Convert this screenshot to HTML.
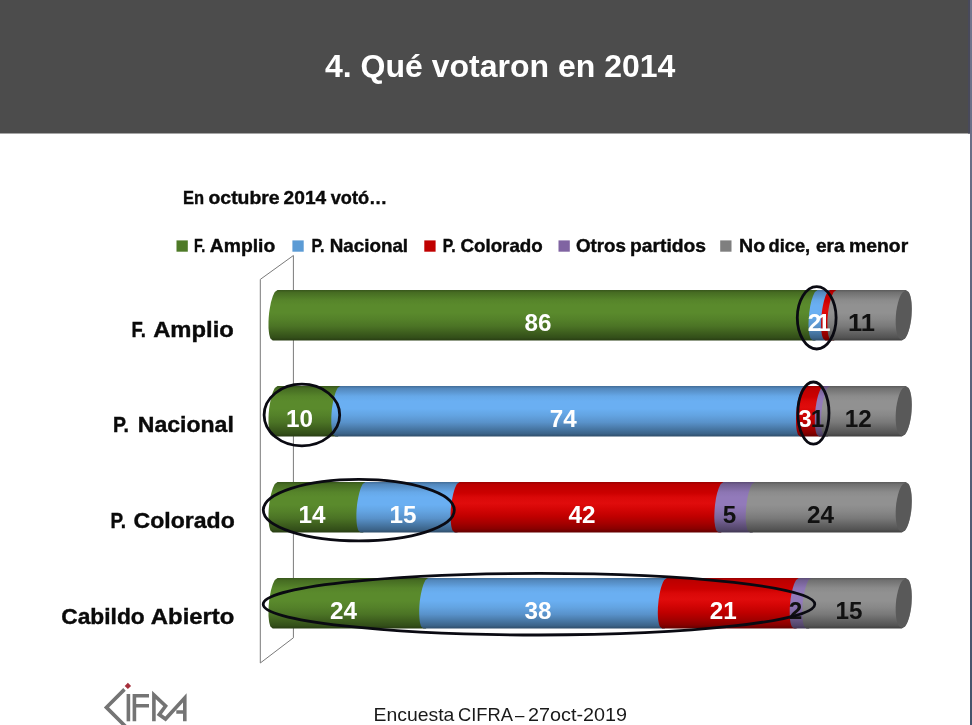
<!DOCTYPE html><html><head><meta charset="utf-8"><title>4. Qué votaron en 2014</title>
<style>html,body{margin:0;padding:0;background:#fff}body{width:972px;height:725px;overflow:hidden}svg{display:block}text{font-family:"Liberation Sans",sans-serif}</style></head><body>
<svg width="972" height="725" viewBox="0 0 972 725">
<defs>
<linearGradient id="gg" x1="0" y1="0" x2="0" y2="1"><stop offset="0" stop-color="#38561c"/><stop offset="0.05" stop-color="#466c22"/><stop offset="0.12" stop-color="#4d7726"/><stop offset="0.2" stop-color="#56842a"/><stop offset="0.3" stop-color="#5a8a2c"/><stop offset="0.45" stop-color="#5a8a2c"/><stop offset="0.58" stop-color="#548129"/><stop offset="0.72" stop-color="#4b7325"/><stop offset="0.84" stop-color="#3e5f1e"/><stop offset="0.94" stop-color="#334f19"/><stop offset="1.0" stop-color="#283d13"/></linearGradient>
<linearGradient id="gb" x1="0" y1="0" x2="0" y2="1"><stop offset="0" stop-color="#426d97"/><stop offset="0.05" stop-color="#5388bd"/><stop offset="0.12" stop-color="#5b96d0"/><stop offset="0.2" stop-color="#66a8e8"/><stop offset="0.3" stop-color="#6aaff2"/><stop offset="0.45" stop-color="#6aaff2"/><stop offset="0.58" stop-color="#63a4e2"/><stop offset="0.72" stop-color="#5992ca"/><stop offset="0.84" stop-color="#4979a7"/><stop offset="0.94" stop-color="#3c648a"/><stop offset="1.0" stop-color="#2f4d6a"/></linearGradient>
<linearGradient id="gr" x1="0" y1="0" x2="0" y2="1"><stop offset="0" stop-color="#9a0000"/><stop offset="0.05" stop-color="#bc0000"/><stop offset="0.22" stop-color="#cc0000"/><stop offset="0.3" stop-color="#da0808"/><stop offset="0.42" stop-color="#e00c0c"/><stop offset="0.52" stop-color="#d60606"/><stop offset="0.68" stop-color="#c00000"/><stop offset="0.82" stop-color="#a40000"/><stop offset="0.93" stop-color="#880000"/><stop offset="1" stop-color="#620000"/></linearGradient>
<linearGradient id="gp" x1="0" y1="0" x2="0" y2="1"><stop offset="0" stop-color="#5b4c74"/><stop offset="0.05" stop-color="#725f91"/><stop offset="0.12" stop-color="#7e69a0"/><stop offset="0.2" stop-color="#8c75b3"/><stop offset="0.3" stop-color="#927aba"/><stop offset="0.45" stop-color="#927aba"/><stop offset="0.58" stop-color="#8972ae"/><stop offset="0.72" stop-color="#7a669b"/><stop offset="0.84" stop-color="#655480"/><stop offset="0.94" stop-color="#53466a"/><stop offset="1.0" stop-color="#403652"/></linearGradient>
<linearGradient id="gy" x1="0" y1="0" x2="0" y2="1"><stop offset="0" stop-color="#5b5b5b"/><stop offset="0.05" stop-color="#717171"/><stop offset="0.12" stop-color="#7d7d7d"/><stop offset="0.2" stop-color="#8b8b8b"/><stop offset="0.3" stop-color="#919191"/><stop offset="0.45" stop-color="#919191"/><stop offset="0.58" stop-color="#888888"/><stop offset="0.72" stop-color="#797979"/><stop offset="0.84" stop-color="#646464"/><stop offset="0.94" stop-color="#535353"/><stop offset="1.0" stop-color="#404040"/></linearGradient>
<linearGradient id="stripe" x1="0" y1="0" x2="0" y2="1"><stop offset="0" stop-color="#74768e"/><stop offset="1" stop-color="#44526a"/></linearGradient>
</defs>
<rect width="972" height="725" fill="#fff"/>
<rect x="0" y="0" width="972" height="133.5" fill="#4c4c4c"/>
<rect x="970" y="0" width="2" height="725" fill="url(#stripe)"/>
<rect x="968" y="0" width="2" height="133.5" fill="#48495a"/>
<text x="500.2" y="77" font-size="32" font-weight="bold" fill="#fff" text-anchor="middle">4. Qué votaron en 2014</text>
<text y="203.9" font-size="18.6" font-weight="bold" fill="#0a0a0a" stroke="#0a0a0a" stroke-width="0.4"><tspan x="182.9" textLength="21.1" lengthAdjust="spacingAndGlyphs">En</tspan> <tspan x="208.5" textLength="71.1" lengthAdjust="spacingAndGlyphs">octubre</tspan> <tspan x="283.6" textLength="42.6" lengthAdjust="spacingAndGlyphs">2014</tspan> <tspan x="330.7" textLength="56.6" lengthAdjust="spacingAndGlyphs">votó…</tspan></text>
<rect x="176.5" y="240.4" width="11.3" height="11.3" fill="#4e7a27"/>
<text y="251.9" font-size="18.2" font-weight="bold" fill="#0a0a0a" stroke="#0a0a0a" stroke-width="0.4"><tspan x="194.1" textLength="11.1" lengthAdjust="spacingAndGlyphs">F.</tspan> <tspan x="209.8" textLength="65.4" lengthAdjust="spacingAndGlyphs">Amplio</tspan></text>
<rect x="292.4" y="240.4" width="11.3" height="11.3" fill="#5b9bd5"/>
<text y="251.9" font-size="18.2" font-weight="bold" fill="#0a0a0a" stroke="#0a0a0a" stroke-width="0.4"><tspan x="311.4" textLength="13.0" lengthAdjust="spacingAndGlyphs">P.</tspan> <tspan x="329.7" textLength="78.4" lengthAdjust="spacingAndGlyphs">Nacional</tspan></text>
<rect x="424.3" y="240.4" width="11.3" height="11.3" fill="#c00000"/>
<text y="251.9" font-size="18.2" font-weight="bold" fill="#0a0a0a" stroke="#0a0a0a" stroke-width="0.4"><tspan x="442.7" textLength="12.8" lengthAdjust="spacingAndGlyphs">P.</tspan> <tspan x="460.4" textLength="82.4" lengthAdjust="spacingAndGlyphs">Colorado</tspan></text>
<rect x="558.5" y="240.4" width="11.3" height="11.3" fill="#8064a2"/>
<text y="251.9" font-size="18.2" font-weight="bold" fill="#0a0a0a" stroke="#0a0a0a" stroke-width="0.4"><tspan x="575.9" textLength="50.0" lengthAdjust="spacingAndGlyphs">Otros</tspan> <tspan x="630" textLength="76.0" lengthAdjust="spacingAndGlyphs">partidos</tspan></text>
<rect x="720.2" y="240.4" width="11.3" height="11.3" fill="#7f7f7f"/>
<text y="251.9" font-size="18.2" font-weight="bold" fill="#0a0a0a" stroke="#0a0a0a" stroke-width="0.4"><tspan x="739.1" textLength="26.1" lengthAdjust="spacingAndGlyphs">No</tspan> <tspan x="768.6" textLength="41.6" lengthAdjust="spacingAndGlyphs">dice,</tspan> <tspan x="816" textLength="28.6" lengthAdjust="spacingAndGlyphs">era</tspan> <tspan x="849.1" textLength="59.1" lengthAdjust="spacingAndGlyphs">menor</tspan></text>
<path d="M260.3 663 L260.3 279.4 L293.4 255.5 L293.4 637.8 Z" fill="#fff" stroke="#7a7a7a" stroke-width="1"/>
<path d="M277.5 290.0 L274.8 292.1 273.7 294.2 272.8 296.3 272.1 298.4 271.5 300.5 270.9 302.6 270.5 304.7 270.1 306.8 269.7 308.9 269.4 311.0 269.1 313.1 268.9 315.2 268.7 317.4 268.6 319.5 268.5 321.6 268.5 323.7 268.5 325.8 268.5 327.9 268.7 330.0 268.9 332.1 269.2 334.2 269.7 336.3 270.4 338.4 272.7 340.5 L815.8 340.5 813.5 338.4 812.8 336.3 812.3 334.2 812.0 332.1 811.7 330.0 811.6 327.9 811.5 325.8 811.5 323.7 811.6 321.6 811.7 319.5 811.8 317.4 812.0 315.2 812.2 313.1 812.5 311.0 812.8 308.9 813.1 306.8 813.5 304.7 814.0 302.6 814.5 300.5 815.2 298.4 815.9 296.3 816.8 294.2 817.9 292.1 820.6 290.0 Z" fill="url(#gg)"/>
<path d="M817.6 290.0 L814.9 292.1 813.8 294.2 812.9 296.3 812.2 298.4 811.5 300.5 811.0 302.6 810.5 304.7 810.1 306.8 809.8 308.9 809.5 311.0 809.2 313.1 809.0 315.2 808.8 317.4 808.7 319.5 808.6 321.6 808.5 323.7 808.5 325.8 808.6 327.9 808.7 330.0 809.0 332.1 809.3 334.2 809.8 336.3 810.5 338.4 812.8 340.5 L828.3 340.5 826.1 338.4 825.3 336.3 824.8 334.2 824.5 332.1 824.3 330.0 824.2 327.9 824.1 325.8 824.1 323.7 824.1 321.6 824.2 319.5 824.4 317.4 824.5 315.2 824.8 313.1 825.0 311.0 825.3 308.9 825.7 306.8 826.1 304.7 826.6 302.6 827.1 300.5 827.7 298.4 828.4 296.3 829.3 294.2 830.5 292.1 833.1 290.0 Z" fill="url(#gb)"/>
<path d="M830.1 290.0 L827.5 292.1 826.3 294.2 825.4 296.3 824.7 298.4 824.1 300.5 823.6 302.6 823.1 304.7 822.7 306.8 822.3 308.9 822.0 311.0 821.8 313.1 821.5 315.2 821.4 317.4 821.2 319.5 821.1 321.6 821.1 323.7 821.1 325.8 821.2 327.9 821.3 330.0 821.5 332.1 821.8 334.2 822.3 336.3 823.1 338.4 825.3 340.5 L834.6 340.5 832.3 338.4 831.6 336.3 831.1 334.2 830.8 332.1 830.6 330.0 830.5 327.9 830.4 325.8 830.4 323.7 830.4 321.6 830.5 319.5 830.6 317.4 830.8 315.2 831.0 313.1 831.3 311.0 831.6 308.9 832.0 306.8 832.4 304.7 832.9 302.6 833.4 300.5 834.0 298.4 834.7 296.3 835.6 294.2 836.7 292.1 839.4 290.0 Z" fill="url(#gr)"/>
<path d="M836.4 290.0 L833.7 292.1 832.6 294.2 831.7 296.3 831.0 298.4 830.4 300.5 829.9 302.6 829.4 304.7 829.0 306.8 828.6 308.9 828.3 311.0 828.0 313.1 827.8 315.2 827.6 317.4 827.5 319.5 827.4 321.6 827.4 323.7 827.4 325.8 827.5 327.9 827.6 330.0 827.8 332.1 828.1 334.2 828.6 336.3 829.3 338.4 831.6 340.5 L901.8 340.5 905.1 338.4 906.5 336.3 907.5 334.2 908.4 332.1 909.0 330.0 909.6 327.9 910.1 325.8 910.6 323.7 910.9 321.6 911.3 319.5 911.5 317.4 911.7 315.2 911.8 313.1 911.9 311.0 911.9 308.9 911.9 306.8 911.8 304.7 911.6 302.6 911.4 300.5 911.0 298.4 910.5 296.3 909.8 294.2 908.8 292.1 905.8 290.0 Z" fill="url(#gy)"/>
<path d="M905.8 290.4 L902.5 292.5 901.1 294.5 900.1 296.6 899.2 298.7 898.6 300.8 898.0 302.8 897.5 304.9 897.0 307.0 896.7 309.0 896.3 311.1 896.1 313.2 895.9 315.2 895.8 317.3 895.7 319.4 895.7 321.5 895.7 323.5 895.8 325.6 896.0 327.7 896.2 329.7 896.6 331.8 897.1 333.9 897.8 336.0 898.8 338.0 901.8 340.1 L901.8 340.1 905.0 338.0 906.3 336.0 907.3 333.9 908.1 331.8 908.8 329.7 909.4 327.7 909.9 325.6 910.3 323.5 910.7 321.5 911.0 319.4 911.2 317.3 911.4 315.2 911.5 313.2 911.6 311.1 911.7 309.0 911.6 307.0 911.5 304.9 911.4 302.8 911.1 300.8 910.8 298.7 910.3 296.6 909.7 294.5 908.7 292.5 905.8 290.4 Z" fill="#595959"/>
<text x="538.0" y="331.3" font-size="23.6" font-weight="bold" fill="#fff" text-anchor="middle" textLength="27.0" lengthAdjust="spacingAndGlyphs">86</text>
<text x="814.4" y="331.3" font-size="23.6" font-weight="bold" fill="#fff" text-anchor="middle" textLength="13.5" lengthAdjust="spacingAndGlyphs">2</text>
<text x="823.8" y="331.3" font-size="23.6" font-weight="bold" fill="#fff" text-anchor="middle" textLength="13.5" lengthAdjust="spacingAndGlyphs">1</text>
<text x="861.5" y="331.3" font-size="23.6" font-weight="bold" fill="#111" text-anchor="middle" textLength="27.0" lengthAdjust="spacingAndGlyphs">11</text>
<text y="337.3" font-size="22.2" font-weight="bold" fill="#0a0a0a" stroke="#0a0a0a" stroke-width="0.4"><tspan x="131.6" textLength="14.4" lengthAdjust="spacingAndGlyphs">F.</tspan> <tspan x="153.2" textLength="80.6" lengthAdjust="spacingAndGlyphs">Amplio</tspan></text>
<path d="M277.5 386.0 L274.8 388.1 273.7 390.2 272.8 392.3 272.1 394.4 271.5 396.5 270.9 398.6 270.5 400.7 270.1 402.8 269.7 404.9 269.4 407.0 269.1 409.1 268.9 411.2 268.7 413.4 268.6 415.5 268.5 417.6 268.5 419.7 268.5 421.8 268.5 423.9 268.7 426.0 268.9 428.1 269.2 430.2 269.7 432.3 270.4 434.4 272.7 436.5 L338.5 436.5 336.2 434.4 335.5 432.3 335.0 430.2 334.7 428.1 334.5 426.0 334.3 423.9 334.3 421.8 334.3 419.7 334.3 417.6 334.4 415.5 334.5 413.4 334.7 411.2 334.9 409.1 335.2 407.0 335.5 404.9 335.9 402.8 336.3 400.7 336.7 398.6 337.3 396.5 337.9 394.4 338.6 392.3 339.5 390.2 340.6 388.1 343.3 386.0 Z" fill="url(#gg)"/>
<path d="M340.3 386.0 L337.6 388.1 336.5 390.2 335.6 392.3 334.9 394.4 334.3 396.5 333.7 398.6 333.3 400.7 332.9 402.8 332.5 404.9 332.2 407.0 331.9 409.1 331.7 411.2 331.5 413.4 331.4 415.5 331.3 417.6 331.3 419.7 331.3 421.8 331.3 423.9 331.5 426.0 331.7 428.1 332.0 430.2 332.5 432.3 333.2 434.4 335.5 436.5 L803.2 436.5 800.9 434.4 800.2 432.3 799.7 430.2 799.4 428.1 799.2 426.0 799.1 423.9 799.0 421.8 799.0 419.7 799.0 417.6 799.1 415.5 799.2 413.4 799.4 411.2 799.6 409.1 799.9 407.0 800.2 404.9 800.6 402.8 801.0 400.7 801.5 398.6 802.0 396.5 802.6 394.4 803.3 392.3 804.2 390.2 805.3 388.1 808.0 386.0 Z" fill="url(#gb)"/>
<path d="M805.0 386.0 L802.3 388.1 801.2 390.2 800.3 392.3 799.6 394.4 799.0 396.5 798.5 398.6 798.0 400.7 797.6 402.8 797.2 404.9 796.9 407.0 796.6 409.1 796.4 411.2 796.2 413.4 796.1 415.5 796.0 417.6 796.0 419.7 796.0 421.8 796.1 423.9 796.2 426.0 796.4 428.1 796.7 430.2 797.2 432.3 797.9 434.4 800.2 436.5 L822.1 436.5 819.8 434.4 819.0 432.3 818.6 430.2 818.2 428.1 818.0 426.0 817.9 423.9 817.8 421.8 817.8 419.7 817.9 417.6 817.9 415.5 818.1 413.4 818.3 411.2 818.5 409.1 818.7 407.0 819.1 404.9 819.4 402.8 819.8 400.7 820.3 398.6 820.8 396.5 821.4 394.4 822.2 392.3 823.0 390.2 824.2 388.1 826.9 386.0 Z" fill="url(#gr)"/>
<path d="M823.9 386.0 L821.2 388.1 820.0 390.2 819.2 392.3 818.4 394.4 817.8 396.5 817.3 398.6 816.8 400.7 816.4 402.8 816.1 404.9 815.7 407.0 815.5 409.1 815.3 411.2 815.1 413.4 814.9 415.5 814.9 417.6 814.8 419.7 814.8 421.8 814.9 423.9 815.0 426.0 815.2 428.1 815.6 430.2 816.0 432.3 816.8 434.4 819.1 436.5 L828.3 436.5 826.1 434.4 825.3 432.3 824.8 430.2 824.5 428.1 824.3 426.0 824.2 423.9 824.1 421.8 824.1 419.7 824.1 417.6 824.2 415.5 824.4 413.4 824.5 411.2 824.8 409.1 825.0 407.0 825.3 404.9 825.7 402.8 826.1 400.7 826.6 398.6 827.1 396.5 827.7 394.4 828.4 392.3 829.3 390.2 830.5 388.1 833.1 386.0 Z" fill="url(#gp)"/>
<path d="M830.1 386.0 L827.5 388.1 826.3 390.2 825.4 392.3 824.7 394.4 824.1 396.5 823.6 398.6 823.1 400.7 822.7 402.8 822.3 404.9 822.0 407.0 821.8 409.1 821.5 411.2 821.4 413.4 821.2 415.5 821.1 417.6 821.1 419.7 821.1 421.8 821.2 423.9 821.3 426.0 821.5 428.1 821.8 430.2 822.3 432.3 823.1 434.4 825.3 436.5 L901.8 436.5 905.1 434.4 906.5 432.3 907.5 430.2 908.4 428.1 909.0 426.0 909.6 423.9 910.1 421.8 910.6 419.7 910.9 417.6 911.3 415.5 911.5 413.4 911.7 411.2 911.8 409.1 911.9 407.0 911.9 404.9 911.9 402.8 911.8 400.7 911.6 398.6 911.4 396.5 911.0 394.4 910.5 392.3 909.8 390.2 908.8 388.1 905.8 386.0 Z" fill="url(#gy)"/>
<path d="M905.8 386.4 L902.5 388.5 901.1 390.5 900.1 392.6 899.2 394.7 898.6 396.8 898.0 398.8 897.5 400.9 897.0 403.0 896.7 405.0 896.3 407.1 896.1 409.2 895.9 411.2 895.8 413.3 895.7 415.4 895.7 417.5 895.7 419.5 895.8 421.6 896.0 423.7 896.2 425.7 896.6 427.8 897.1 429.9 897.8 432.0 898.8 434.0 901.8 436.1 L901.8 436.1 905.0 434.0 906.3 432.0 907.3 429.9 908.1 427.8 908.8 425.7 909.4 423.7 909.9 421.6 910.3 419.5 910.7 417.5 911.0 415.4 911.2 413.3 911.4 411.2 911.5 409.2 911.6 407.1 911.7 405.0 911.6 403.0 911.5 400.9 911.4 398.8 911.1 396.8 910.8 394.7 910.3 392.6 909.7 390.5 908.7 388.5 905.8 386.4 Z" fill="#595959"/>
<text x="299.4" y="427.3" font-size="23.6" font-weight="bold" fill="#fff" text-anchor="middle" textLength="27.0" lengthAdjust="spacingAndGlyphs">10</text>
<text x="563.2" y="427.3" font-size="23.6" font-weight="bold" fill="#fff" text-anchor="middle" textLength="27.0" lengthAdjust="spacingAndGlyphs">74</text>
<text x="804.9" y="427.3" font-size="23.6" font-weight="bold" fill="#fff" text-anchor="middle" textLength="13.5" lengthAdjust="spacingAndGlyphs">3</text>
<text x="817.5" y="427.3" font-size="23.6" font-weight="bold" fill="#111" text-anchor="middle" textLength="13.5" lengthAdjust="spacingAndGlyphs">1</text>
<text x="858.3" y="427.3" font-size="23.6" font-weight="bold" fill="#111" text-anchor="middle" textLength="27.0" lengthAdjust="spacingAndGlyphs">12</text>
<text y="432.4" font-size="22.2" font-weight="bold" fill="#0a0a0a" stroke="#0a0a0a" stroke-width="0.4"><tspan x="113.1" textLength="15.9" lengthAdjust="spacingAndGlyphs">P.</tspan> <tspan x="137.8" textLength="96.0" lengthAdjust="spacingAndGlyphs">Nacional</tspan></text>
<path d="M277.5 482.0 L274.8 484.1 273.7 486.2 272.8 488.3 272.1 490.4 271.5 492.5 270.9 494.6 270.5 496.7 270.1 498.8 269.7 500.9 269.4 503.0 269.1 505.1 268.9 507.2 268.7 509.4 268.6 511.5 268.5 513.6 268.5 515.7 268.5 517.8 268.5 519.9 268.7 522.0 268.9 524.1 269.2 526.2 269.7 528.3 270.4 530.4 272.7 532.5 L363.6 532.5 361.3 530.4 360.6 528.3 360.1 526.2 359.8 524.1 359.6 522.0 359.5 519.9 359.4 517.8 359.4 515.7 359.4 513.6 359.5 511.5 359.6 509.4 359.8 507.2 360.0 505.1 360.3 503.0 360.6 500.9 361.0 498.8 361.4 496.7 361.9 494.6 362.4 492.5 363.0 490.4 363.7 488.3 364.6 486.2 365.7 484.1 368.4 482.0 Z" fill="url(#gg)"/>
<path d="M365.4 482.0 L362.7 484.1 361.6 486.2 360.7 488.3 360.0 490.4 359.4 492.5 358.9 494.6 358.4 496.7 358.0 498.8 357.6 500.9 357.3 503.0 357.0 505.1 356.8 507.2 356.6 509.4 356.5 511.5 356.4 513.6 356.4 515.7 356.4 517.8 356.5 519.9 356.6 522.0 356.8 524.1 357.1 526.2 357.6 528.3 358.3 530.4 360.6 532.5 L457.8 532.5 455.5 530.4 454.8 528.3 454.3 526.2 454.0 524.1 453.8 522.0 453.7 519.9 453.6 517.8 453.6 515.7 453.6 513.6 453.7 511.5 453.8 509.4 454.0 507.2 454.2 505.1 454.5 503.0 454.8 500.9 455.2 498.8 455.6 496.7 456.1 494.6 456.6 492.5 457.2 490.4 457.9 488.3 458.8 486.2 459.9 484.1 462.6 482.0 Z" fill="url(#gb)"/>
<path d="M459.6 482.0 L456.9 484.1 455.8 486.2 454.9 488.3 454.2 490.4 453.6 492.5 453.1 494.6 452.6 496.7 452.2 498.8 451.8 500.9 451.5 503.0 451.2 505.1 451.0 507.2 450.8 509.4 450.7 511.5 450.6 513.6 450.6 515.7 450.6 517.8 450.7 519.9 450.8 522.0 451.0 524.1 451.3 526.2 451.8 528.3 452.5 530.4 454.8 532.5 L721.6 532.5 719.3 530.4 718.6 528.3 718.1 526.2 717.8 524.1 717.5 522.0 717.4 519.9 717.3 517.8 717.3 515.7 717.4 513.6 717.5 511.5 717.6 509.4 717.8 507.2 718.0 505.1 718.3 503.0 718.6 500.9 718.9 498.8 719.3 496.7 719.8 494.6 720.3 492.5 721.0 490.4 721.7 488.3 722.6 486.2 723.7 484.1 726.4 482.0 Z" fill="url(#gr)"/>
<path d="M723.4 482.0 L720.7 484.1 719.6 486.2 718.7 488.3 718.0 490.4 717.3 492.5 716.8 494.6 716.3 496.7 715.9 498.8 715.6 500.9 715.3 503.0 715.0 505.1 714.8 507.2 714.6 509.4 714.5 511.5 714.4 513.6 714.3 515.7 714.3 517.8 714.4 519.9 714.5 522.0 714.8 524.1 715.1 526.2 715.6 528.3 716.3 530.4 718.6 532.5 L753.0 532.5 750.7 530.4 750.0 528.3 749.5 526.2 749.2 524.1 748.9 522.0 748.8 519.9 748.7 517.8 748.7 515.7 748.8 513.6 748.9 511.5 749.0 509.4 749.2 507.2 749.4 505.1 749.7 503.0 750.0 500.9 750.3 498.8 750.7 496.7 751.2 494.6 751.7 492.5 752.4 490.4 753.1 488.3 754.0 486.2 755.1 484.1 757.8 482.0 Z" fill="url(#gp)"/>
<path d="M754.8 482.0 L752.1 484.1 751.0 486.2 750.1 488.3 749.4 490.4 748.7 492.5 748.2 494.6 747.7 496.7 747.3 498.8 747.0 500.9 746.7 503.0 746.4 505.1 746.2 507.2 746.0 509.4 745.9 511.5 745.8 513.6 745.7 515.7 745.7 517.8 745.8 519.9 745.9 522.0 746.2 524.1 746.5 526.2 747.0 528.3 747.7 530.4 750.0 532.5 L901.8 532.5 905.1 530.4 906.5 528.3 907.5 526.2 908.4 524.1 909.0 522.0 909.6 519.9 910.1 517.8 910.6 515.7 910.9 513.6 911.3 511.5 911.5 509.4 911.7 507.2 911.8 505.1 911.9 503.0 911.9 500.9 911.9 498.8 911.8 496.7 911.6 494.6 911.4 492.5 911.0 490.4 910.5 488.3 909.8 486.2 908.8 484.1 905.8 482.0 Z" fill="url(#gy)"/>
<path d="M905.8 482.4 L902.5 484.5 901.1 486.5 900.1 488.6 899.2 490.7 898.6 492.8 898.0 494.8 897.5 496.9 897.0 499.0 896.7 501.0 896.3 503.1 896.1 505.2 895.9 507.2 895.8 509.3 895.7 511.4 895.7 513.5 895.7 515.5 895.8 517.6 896.0 519.7 896.2 521.7 896.6 523.8 897.1 525.9 897.8 528.0 898.8 530.0 901.8 532.1 L901.8 532.1 905.0 530.0 906.3 528.0 907.3 525.9 908.1 523.8 908.8 521.7 909.4 519.7 909.9 517.6 910.3 515.5 910.7 513.5 911.0 511.4 911.2 509.3 911.4 507.2 911.5 505.2 911.6 503.1 911.7 501.0 911.6 499.0 911.5 496.9 911.4 494.8 911.1 492.8 910.8 490.7 910.3 488.6 909.7 486.5 908.7 484.5 905.8 482.4 Z" fill="#595959"/>
<text x="312.0" y="523.3" font-size="23.6" font-weight="bold" fill="#fff" text-anchor="middle" textLength="27.0" lengthAdjust="spacingAndGlyphs">14</text>
<text x="403.0" y="523.3" font-size="23.6" font-weight="bold" fill="#fff" text-anchor="middle" textLength="27.0" lengthAdjust="spacingAndGlyphs">15</text>
<text x="582.0" y="523.3" font-size="23.6" font-weight="bold" fill="#fff" text-anchor="middle" textLength="27.0" lengthAdjust="spacingAndGlyphs">42</text>
<text x="729.6" y="523.3" font-size="23.6" font-weight="bold" fill="#111" text-anchor="middle" textLength="13.5" lengthAdjust="spacingAndGlyphs">5</text>
<text x="820.6" y="523.3" font-size="23.6" font-weight="bold" fill="#111" text-anchor="middle" textLength="27.0" lengthAdjust="spacingAndGlyphs">24</text>
<text y="528.2" font-size="22.2" font-weight="bold" fill="#0a0a0a" stroke="#0a0a0a" stroke-width="0.4"><tspan x="110.5" textLength="15.4" lengthAdjust="spacingAndGlyphs">P.</tspan> <tspan x="133.6" textLength="101.2" lengthAdjust="spacingAndGlyphs">Colorado</tspan></text>
<path d="M277.5 578.0 L274.8 580.1 273.7 582.2 272.8 584.3 272.1 586.4 271.5 588.5 270.9 590.6 270.5 592.7 270.1 594.8 269.7 596.9 269.4 599.0 269.1 601.1 268.9 603.2 268.7 605.4 268.6 607.5 268.5 609.6 268.5 611.7 268.5 613.8 268.5 615.9 268.7 618.0 268.9 620.1 269.2 622.2 269.7 624.3 270.4 626.4 272.7 628.5 L426.4 628.5 424.1 626.4 423.4 624.3 422.9 622.2 422.6 620.1 422.4 618.0 422.3 615.9 422.2 613.8 422.2 611.7 422.2 609.6 422.3 607.5 422.4 605.4 422.6 603.2 422.8 601.1 423.1 599.0 423.4 596.9 423.8 594.8 424.2 592.7 424.7 590.6 425.2 588.5 425.8 586.4 426.5 584.3 427.4 582.2 428.5 580.1 431.2 578.0 Z" fill="url(#gg)"/>
<path d="M428.2 578.0 L425.5 580.1 424.4 582.2 423.5 584.3 422.8 586.4 422.2 588.5 421.7 590.6 421.2 592.7 420.8 594.8 420.4 596.9 420.1 599.0 419.8 601.1 419.6 603.2 419.4 605.4 419.3 607.5 419.2 609.6 419.2 611.7 419.2 613.8 419.3 615.9 419.4 618.0 419.6 620.1 419.9 622.2 420.4 624.3 421.1 626.4 423.4 628.5 L665.1 628.5 662.8 626.4 662.0 624.3 661.6 622.2 661.2 620.1 661.0 618.0 660.9 615.9 660.8 613.8 660.8 611.7 660.9 609.6 660.9 607.5 661.1 605.4 661.3 603.2 661.5 601.1 661.7 599.0 662.1 596.9 662.4 594.8 662.8 592.7 663.3 590.6 663.8 588.5 664.4 586.4 665.2 584.3 666.0 582.2 667.2 580.1 669.9 578.0 Z" fill="url(#gb)"/>
<path d="M666.9 578.0 L664.2 580.1 663.0 582.2 662.2 584.3 661.4 586.4 660.8 588.5 660.3 590.6 659.8 592.7 659.4 594.8 659.1 596.9 658.7 599.0 658.5 601.1 658.3 603.2 658.1 605.4 657.9 607.5 657.9 609.6 657.8 611.7 657.8 613.8 657.9 615.9 658.0 618.0 658.2 620.1 658.6 622.2 659.0 624.3 659.8 626.4 662.1 628.5 L796.9 628.5 794.7 626.4 793.9 624.3 793.4 622.2 793.1 620.1 792.9 618.0 792.8 615.9 792.7 613.8 792.7 611.7 792.7 609.6 792.8 607.5 793.0 605.4 793.1 603.2 793.4 601.1 793.6 599.0 793.9 596.9 794.3 594.8 794.7 592.7 795.2 590.6 795.7 588.5 796.3 586.4 797.0 584.3 797.9 582.2 799.1 580.1 801.7 578.0 Z" fill="url(#gr)"/>
<path d="M798.7 578.0 L796.1 580.1 794.9 582.2 794.0 584.3 793.3 586.4 792.7 588.5 792.2 590.6 791.7 592.7 791.3 594.8 790.9 596.9 790.6 599.0 790.4 601.1 790.1 603.2 790.0 605.4 789.8 607.5 789.7 609.6 789.7 611.7 789.7 613.8 789.8 615.9 789.9 618.0 790.1 620.1 790.4 622.2 790.9 624.3 791.7 626.4 793.9 628.5 L809.5 628.5 807.2 626.4 806.5 624.3 806.0 622.2 805.7 620.1 805.5 618.0 805.3 615.9 805.3 613.8 805.3 611.7 805.3 609.6 805.4 607.5 805.5 605.4 805.7 603.2 805.9 601.1 806.2 599.0 806.5 596.9 806.9 594.8 807.3 592.7 807.7 590.6 808.3 588.5 808.9 586.4 809.6 584.3 810.5 582.2 811.6 580.1 814.3 578.0 Z" fill="url(#gp)"/>
<path d="M811.3 578.0 L808.6 580.1 807.5 582.2 806.6 584.3 805.9 586.4 805.3 588.5 804.7 590.6 804.3 592.7 803.9 594.8 803.5 596.9 803.2 599.0 802.9 601.1 802.7 603.2 802.5 605.4 802.4 607.5 802.3 609.6 802.3 611.7 802.3 613.8 802.3 615.9 802.5 618.0 802.7 620.1 803.0 622.2 803.5 624.3 804.2 626.4 806.5 628.5 L901.8 628.5 905.1 626.4 906.5 624.3 907.5 622.2 908.4 620.1 909.0 618.0 909.6 615.9 910.1 613.8 910.6 611.7 910.9 609.6 911.3 607.5 911.5 605.4 911.7 603.2 911.8 601.1 911.9 599.0 911.9 596.9 911.9 594.8 911.8 592.7 911.6 590.6 911.4 588.5 911.0 586.4 910.5 584.3 909.8 582.2 908.8 580.1 905.8 578.0 Z" fill="url(#gy)"/>
<path d="M905.8 578.4 L902.5 580.5 901.1 582.5 900.1 584.6 899.2 586.7 898.6 588.8 898.0 590.8 897.5 592.9 897.0 595.0 896.7 597.0 896.3 599.1 896.1 601.2 895.9 603.2 895.8 605.3 895.7 607.4 895.7 609.5 895.7 611.5 895.8 613.6 896.0 615.7 896.2 617.7 896.6 619.8 897.1 621.9 897.8 624.0 898.8 626.0 901.8 628.1 L901.8 628.1 905.0 626.0 906.3 624.0 907.3 621.9 908.1 619.8 908.8 617.7 909.4 615.7 909.9 613.6 910.3 611.5 910.7 609.5 911.0 607.4 911.2 605.3 911.4 603.2 911.5 601.2 911.6 599.1 911.7 597.0 911.6 595.0 911.5 592.9 911.4 590.8 911.1 588.8 910.8 586.7 910.3 584.6 909.7 582.5 908.7 580.5 905.8 578.4 Z" fill="#595959"/>
<text x="343.4" y="619.3" font-size="23.6" font-weight="bold" fill="#fff" text-anchor="middle" textLength="27.0" lengthAdjust="spacingAndGlyphs">24</text>
<text x="538.0" y="619.3" font-size="23.6" font-weight="bold" fill="#fff" text-anchor="middle" textLength="27.0" lengthAdjust="spacingAndGlyphs">38</text>
<text x="723.3" y="619.3" font-size="23.6" font-weight="bold" fill="#fff" text-anchor="middle" textLength="27.0" lengthAdjust="spacingAndGlyphs">21</text>
<text x="795.5" y="619.3" font-size="23.6" font-weight="bold" fill="#111" text-anchor="middle" textLength="13.5" lengthAdjust="spacingAndGlyphs">2</text>
<text x="848.9" y="619.3" font-size="23.6" font-weight="bold" fill="#111" text-anchor="middle" textLength="27.0" lengthAdjust="spacingAndGlyphs">15</text>
<text y="624" font-size="22.2" font-weight="bold" fill="#0a0a0a" stroke="#0a0a0a" stroke-width="0.4"><tspan x="61.3" textLength="83.4" lengthAdjust="spacingAndGlyphs">Cabildo</tspan> <tspan x="150.8" textLength="83.6" lengthAdjust="spacingAndGlyphs">Abierto</tspan></text>
<ellipse cx="816.7" cy="317.8" rx="19.4" ry="31.2" fill="none" stroke="#0a0a12" stroke-width="2.8"/>
<ellipse cx="813.4" cy="413.1" rx="15.6" ry="31.1" fill="none" stroke="#0a0a12" stroke-width="2.8"/>
<ellipse cx="301.9" cy="415" rx="37.8" ry="30.8" fill="none" stroke="#0a0a12" stroke-width="2.8"/>
<ellipse cx="358.8" cy="510.1" rx="95.5" ry="30.8" fill="none" stroke="#0a0a12" stroke-width="2.8"/>
<ellipse cx="539" cy="604.2" rx="275.8" ry="30.8" fill="none" stroke="#0a0a12" stroke-width="2.8"/>
<g fill="none" stroke="#747474" stroke-width="3.6" stroke-linejoin="miter" stroke-linecap="butt">
<path d="M124.5 689.4 L106.4 707.4 L127.1 728"/>
<path d="M128.4 694 V721.3"/>
<path d="M134.4 721.3 V695.8 H149 M134.4 705.8 H149"/>
<path d="M153.9 721.3 V695 L165.6 706 L159.2 714.6 L165.5 719 L184.8 697.8 V721.3 M176.3 712 H184.8"/>
</g>
<path d="M127.9 682.7 L131.1 685.9 L127.9 689.1 L124.7 685.9 Z" fill="#a62f3b"/>
<text y="720.7" font-size="18.6" font-weight="normal" fill="#1a1a1a"><tspan x="373.6" textLength="80.8" lengthAdjust="spacingAndGlyphs">Encuesta</tspan> <tspan x="458" textLength="54.0" lengthAdjust="spacingAndGlyphs">CIFRA</tspan> <tspan x="515" textLength="9.4" lengthAdjust="spacingAndGlyphs">–</tspan> <tspan x="528" textLength="99.0" lengthAdjust="spacingAndGlyphs">27oct-2019</tspan></text>
</svg></body></html>
